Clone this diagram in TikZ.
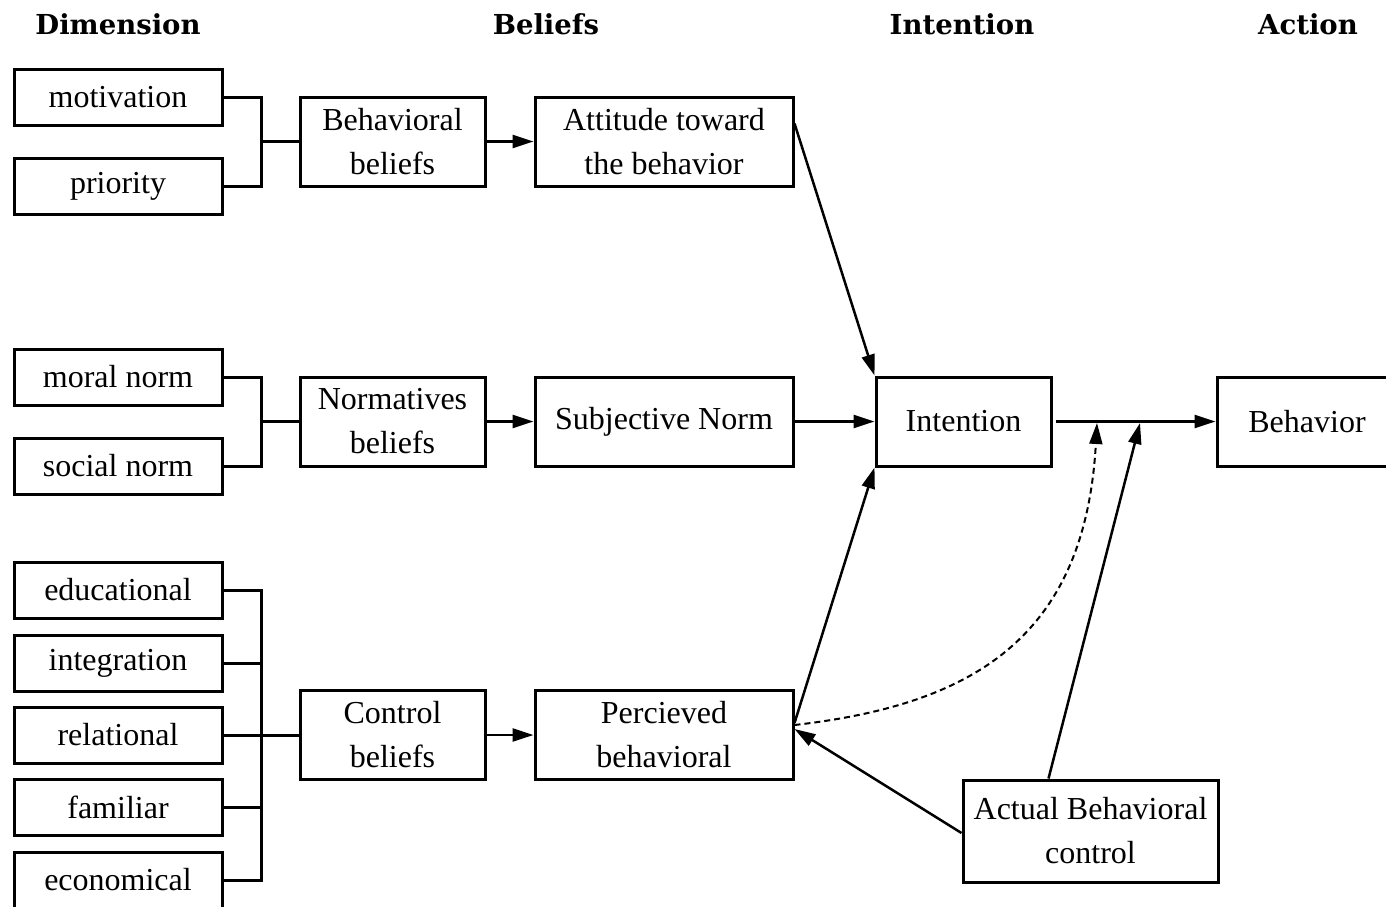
\documentclass[tikz,border=0pt]{standalone}
\usepackage{fontspec}
\setmainfont{Liberation Serif}
\newfontfamily\hdrfont{DejaVu Serif}
\usetikzlibrary{arrows.meta,calc}
\begin{document}
\begin{tikzpicture}[x=1pt,y=-1pt,
  box/.style={draw,line width=3pt,align=center,inner sep=0pt,font=\fontsize{32}{44}\selectfont},
  dim/.style={box,minimum width=208pt,minimum height=56pt},
  mid/.style={box,minimum width=185pt,minimum height=89pt},
  wide/.style={box,minimum width=258pt,minimum height=89pt},
  hdr/.style={font=\hdrfont\bfseries\fontsize{27.5}{30}\selectfont},
  ln/.style={line width=3pt},
  arr/.style={line width=2.5pt,-{Triangle[length=21pt,width=13pt]}}]
\useasboundingbox (0,0) rectangle (1386,907);
% headers
\node[hdr] (h1) at (118,24) {Dimension};
\node[hdr] (h2) at (546,24) {Beliefs};
\node[hdr] (h3) at (962,24) {Intention};
\node[hdr] (h4) at (1308,24) {Action};
% row 1
\node[dim] (mot) at (118,97.5) {motivation};
\node[dim] (pri) at (118,186.5) {priority};
\node[mid] (bb) at (392.5,141.5) {Behavioral\\beliefs};
\node[wide] (att) at (664,141.5) {Attitude toward\\the behavior};
% row 2
\node[dim] (mor) at (118,377) {moral norm};
\node[dim] (soc) at (118,466) {social norm};
\node[mid] (nb) at (392.5,421.5) {Normatives\\beliefs};
\node[wide] (sn) at (664,421.5) {Subjective Norm};
\node[box,minimum width=175pt,minimum height=89pt] (int) at (963.5,421.5) {Intention};
\node[box,minimum width=180pt,minimum height=89pt] (beh) at (1307,421.5) {Behavior};
% row 3
\node[dim] (edu) at (118,590) {educational};
\node[dim] (ing) at (118,663) {integration};
\node[dim] (rel) at (118,735) {relational};
\node[dim] (fam) at (118,807) {familiar};
\node[dim] (eco) at (118,880) {economical};
\node[mid] (cb) at (392.5,735) {Control\\beliefs};
\node[wide] (pb) at (664,735) {Percieved\\behavioral};
\node[box,minimum width=255pt,minimum height=102pt] (abc) at (1090.5,831) {Actual Behavioral\\control};
% junctions
\coordinate (j1) at (261,141.5);
\coordinate (j2) at (261,421.5);
\coordinate (j3) at (261,735);
\coordinate (k1) at (1097,423);
\coordinate (k2) at (1140,423);
% brackets
\draw[ln] (mot.east) -| (j1);
\draw[ln] (pri.east) -| (j1);
\draw[ln] (j1) -- (bb.west);
\draw[ln] (mor.east) -| (j2);
\draw[ln] (soc.east) -| (j2);
\draw[ln] (j2) -- (nb.west);
\foreach \n in {edu,ing,rel,fam,eco} \draw[ln] (\n.east) -| (j3);
\draw[ln] (j3) -- (cb.west);
% arrows
\draw[arr] (bb.east) -- (att.west);
\draw[arr] (nb.east) -- (sn.west);
\draw[arr] (cb.east) -- (pb.west);
\draw[arr] ([yshift=18pt]att.east) -- (int.north west);
\draw[arr] (sn.east) -- (int.west);
\draw[arr] ([yshift=12pt]pb.east) -- (int.south west);
\draw[arr] ([xshift=3pt]int.east) -- (beh.west);
\draw[arr] ([xshift=-42pt]abc.north) -- (k2);
\draw[arr] ([yshift=-2pt]abc.west) -- ([yshift=6pt]pb.east);
\draw[arr,dashed,line width=2pt,dash pattern=on 6pt off 4pt] ([yshift=10pt]pb.east) .. controls (970,705) and (1085,640) .. (k1);
\end{tikzpicture}
\end{document}
